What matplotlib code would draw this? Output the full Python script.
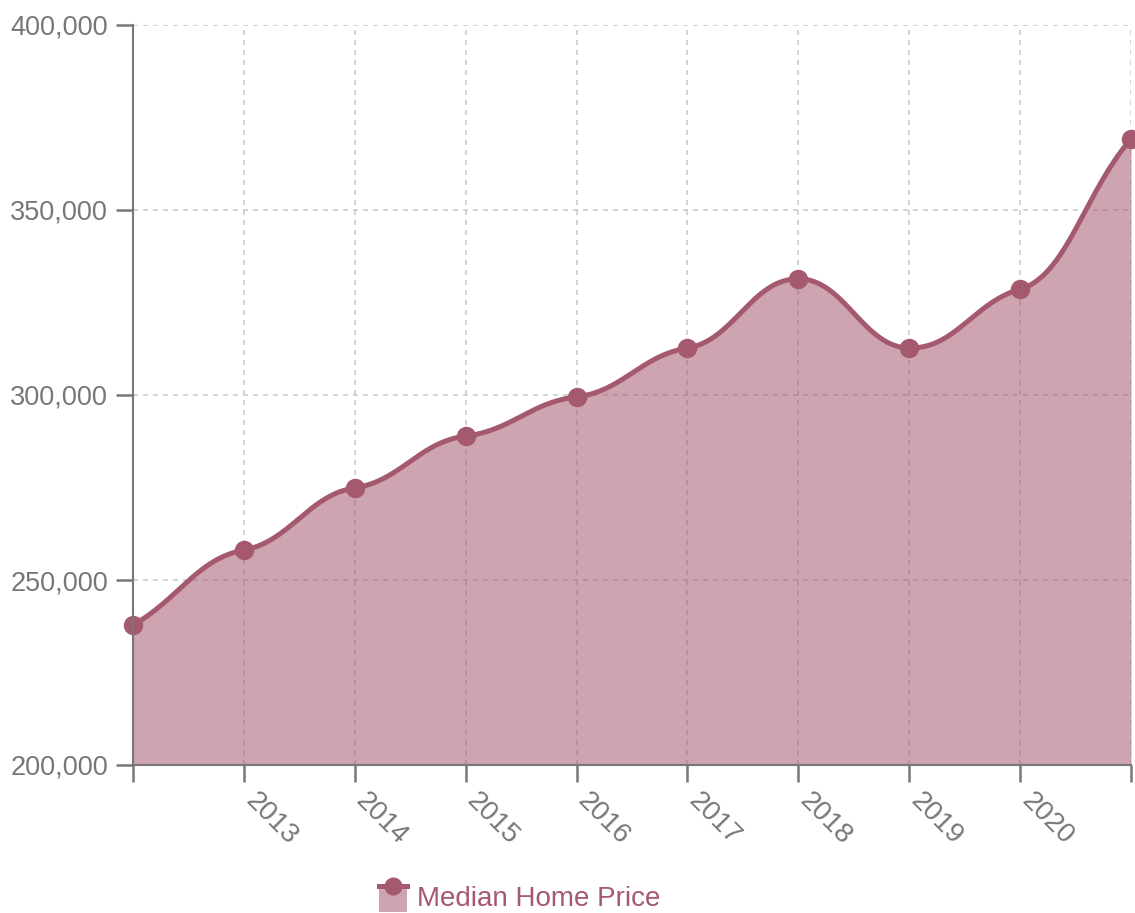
import numpy as np
import matplotlib
matplotlib.use("Agg")
import matplotlib.pyplot as plt
from matplotlib.ticker import FuncFormatter
from matplotlib.patches import Rectangle
from matplotlib.lines import Line2D
from matplotlib.transforms import ScaledTranslation

years = [2012, 2013, 2014, 2015, 2016, 2017, 2018, 2019, 2020, 2021]
prices = [237800, 258100, 274900, 288900, 299500, 312700, 331400, 312700, 328600, 369200]
tick_labels = ["", "2013", "2014", "2015", "2016", "2017", "2018", "2019", "2020", ""]
series_name = "Median Home Price"

LINE = "#a5596f"
GRAY = "#777777"

plt.rcParams['font.family'] = ['Liberation Sans', 'DejaVu Sans']

fig = plt.figure(figsize=(11.35, 9.13), dpi=100)
ax = fig.add_axes([133/1135, 1-765/913, (1131-133)/1135, (765-25)/913])

# smooth curve: cubic Bezier segments with damped tangents
X = np.array(years, dtype=float)
Y = np.array(prices, dtype=float)
n = len(X)
slopes = np.diff(Y) / np.diff(X)
m = np.zeros(n)
K_IN, K_END, ALPHA = 0.3, 0.85, 0.42
for i in range(1, n - 1):
    m[i] = K_IN * (Y[i+1] - Y[i-1]) / (X[i+1] - X[i-1])
m[0] = K_END * slopes[0]
m[-1] = K_END * slopes[-1]

t = np.linspace(0, 1, 100)
xs_all, ys_all = [], []
for i in range(n - 1):
    h = X[i+1] - X[i]
    px = [X[i], X[i] + ALPHA*h, X[i+1] - ALPHA*h, X[i+1]]
    py = [Y[i], Y[i] + m[i]*ALPHA*h, Y[i+1] - m[i+1]*ALPHA*h, Y[i+1]]
    bx = (1-t)**3*px[0] + 3*(1-t)**2*t*px[1] + 3*(1-t)*t**2*px[2] + t**3*px[3]
    by = (1-t)**3*py[0] + 3*(1-t)**2*t*py[1] + 3*(1-t)*t**2*py[2] + t**3*py[3]
    if i > 0:
        bx, by = bx[1:], by[1:]
    xs_all.append(bx); ys_all.append(by)
xs = np.concatenate(xs_all); ys = np.concatenate(ys_all)

ax.set_xlim(2012, 2021)
ax.set_ylim(200000, 400000)

ax.grid(True, color="#cccccc", linestyle=(0, (3, 3)), linewidth=1.2)
ax.set_axisbelow(True)

ax.fill_between(xs, 200000, ys, color=LINE, alpha=0.55, linewidth=0, zorder=2)
ax.plot(xs, ys, color=LINE, linewidth=3.6, zorder=3, solid_capstyle='round')
ax.plot(years, prices, 'o', color=LINE, markersize=13, zorder=4, clip_on=False)

ax.set_xticks(years)
ax.set_xticklabels(tick_labels, rotation=-45, rotation_mode='anchor', ha='left', va='bottom')
ax.set_yticks([200000, 250000, 300000, 350000, 400000])
ax.yaxis.set_major_formatter(FuncFormatter(lambda v, p: f"{int(v):,}"))

for s in ['top', 'right']:
    ax.spines[s].set_visible(False)
for s in ['left', 'bottom']:
    ax.spines[s].set_color(GRAY)
    ax.spines[s].set_linewidth(1.5)
    ax.spines[s].set_zorder(5)
ax.tick_params(axis='both', colors=GRAY, length=12, width=1.8, labelsize=19.5, labelcolor=GRAY)
ax.tick_params(axis='x', pad=18, labelsize=20)
ax.tick_params(axis='y', pad=6)

shift = ScaledTranslation(-4/100, 0, fig.dpi_scale_trans)
for lbl in ax.get_xticklabels():
    lbl.set_transform(lbl.get_transform() + shift)

# legend
W, H = 1135, 913
fig.patches.append(Rectangle((379/W, 1-912/H), 28/W, 27/H, transform=fig.transFigure,
                             facecolor=LINE, alpha=0.55, edgecolor='none'))
fig.lines.append(Line2D([379/W, 407/W], [1-886/H, 1-886/H], transform=fig.transFigure,
                        color=LINE, linewidth=3.6))
fig.lines.append(Line2D([393/W], [1-886/H], transform=fig.transFigure, marker='o',
                        color=LINE, markersize=12))
fig.text(417/W, 1-899/H, series_name, color=LINE, fontsize=20, va='center', ha='left')

fig.savefig("out.png", dpi=100)
